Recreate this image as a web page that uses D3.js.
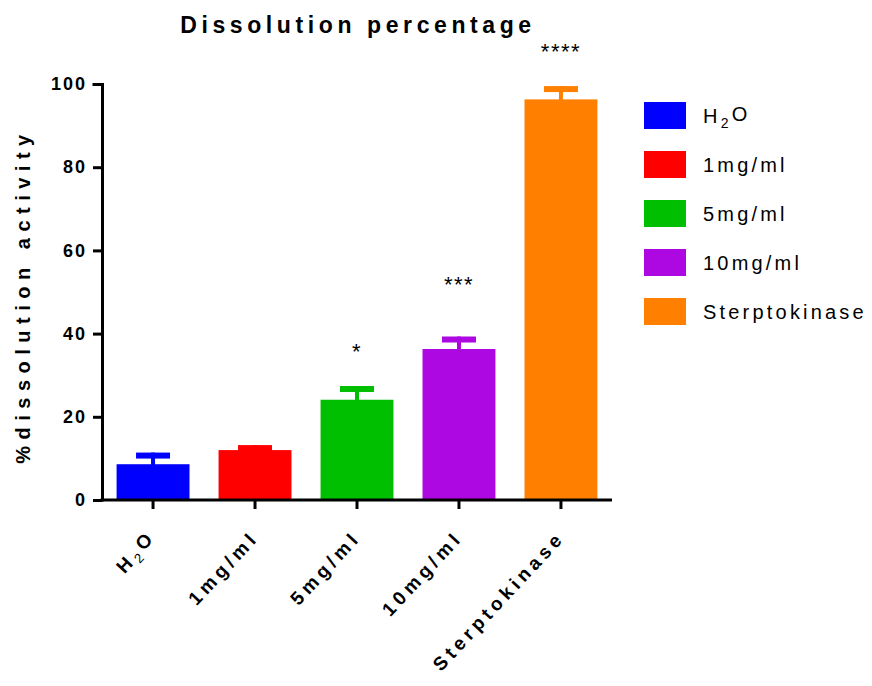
<!DOCTYPE html>
<html>
<head>
<meta charset="utf-8">
<script src="https://d3js.org/d3.v7.min.js"></script>
<style>
  body { margin: 0; background: #fff; }
  text { font-family: "Liberation Sans", Arial, sans-serif; }
  .title { font-size: 23px; font-weight: bold; letter-spacing: 4.6px; }
  .ylab { font-size: 20px; font-weight: bold; letter-spacing: 6.5px; }
  .axis text { font-size: 18px; font-weight: bold; fill: #000; }
  .y.axis text { letter-spacing: 2px; }
  .x.axis text { font-size: 19px; letter-spacing: 4.4px; }
  .legend text { font-size: 20px; letter-spacing: 3.2px; }
  .star { font-size: 22px; letter-spacing: 1.5px; }
</style>
</head>
<body>
<script>
  var categories = ["H2O", "1mg/ml", "5mg/ml", "10mg/ml", "Sterptokinase"];
  var means = [8.6, 12.0, 24.1, 36.3, 96.3];
  var errors = [2.8, 1.2, 3.3, 3.0, 3.2];
  var stars = ["", "", "*", "***", "****"];
  var starLevels = [null, null, 34, 50, 106];
  var colors = ["#0000ff", "#ff0000", "#00bf00", "#ad07e2", "#ff8000"];
  var yTicks = [0, 20, 40, 60, 80, 100];

  var margin = {top: 84, left: 102},
      width = 510, height = 416;

  var svg = d3.select("body").append("svg")
    .attr("width", 872).attr("height", 686);

  var g = svg.append("g")
    .attr("transform", "translate(" + margin.left + "," + margin.top + ")");

  var x = d3.scaleBand().domain(categories).range([0, width]).paddingInner(0.285).paddingOuter(0.143);
  var y = d3.scaleLinear().domain([0, 100]).range([height, 0]);

  function subscriptH2O(sel, size, shift, bold) {
    sel.each(function(d) {
      if (d !== "H2O") return;
      var t = d3.select(this).text("");
      t.append("tspan").text("H");
      t.append("tspan").attr("font-size", size).attr("font-weight", bold ? null : "normal")
        .attr("dy", shift).text("2");
      t.append("tspan").attr("dy", "-" + shift).text("O");
    });
  }

  // bars
  g.selectAll(".bar").data(categories).enter().append("rect")
    .attr("class", "bar")
    .attr("x", d => x(d))
    .attr("width", x.bandwidth())
    .attr("y", (d, i) => y(means[i]))
    .attr("height", (d, i) => height - y(means[i]))
    .attr("fill", (d, i) => colors[i]);

  // error bars (upper only) and significance marks
  var capW = 34, stemW = 4, capH = 6;
  categories.forEach(function(d, i) {
    var cx = x(d) + x.bandwidth() / 2;
    var top = y(means[i] + errors[i]);
    g.append("rect").attr("x", cx - stemW / 2).attr("width", stemW)
      .attr("y", top).attr("height", y(means[i]) - top + 1).attr("fill", colors[i]);
    g.append("rect").attr("x", cx - capW / 2).attr("width", capW)
      .attr("y", top).attr("height", capH).attr("fill", colors[i]);
    if (stars[i]) {
      g.append("text").attr("class", "star")
        .attr("x", cx).attr("y", y(starLevels[i]))
        .attr("text-anchor", "middle").text(stars[i]);
    }
  });

  // axes
  var yAxis = g.append("g").attr("class", "y axis")
    .call(d3.axisLeft(y).tickValues(yTicks).tickSize(9).tickPadding(6));
  var xAxis = g.append("g").attr("class", "x axis")
    .attr("transform", "translate(0," + height + ")")
    .call(d3.axisBottom(x).tickSize(9).tickSizeOuter(0));

  [yAxis, xAxis].forEach(function(a) {
    a.select(".domain").attr("stroke", "#000").attr("stroke-width", 3);
    a.selectAll(".tick line").attr("stroke", "#000").attr("stroke-width", 3);
  });
  yAxis.select(".domain").attr("d", "M-9.5,0.5H0.5V" + (height + 1.5));
  xAxis.select(".domain").attr("d", "M-1.5,0H" + width);
  xAxis.selectAll(".tick text")
    .style("text-anchor", "end")
    .attr("x", 0).attr("y", 0)
    .attr("dx", 0).attr("dy", "0.35em")
    .attr("transform", "translate(0,34) rotate(-47)")
    .call(subscriptH2O, "0.7em", "0.3em", false);

  // title
  svg.append("text").attr("class", "title")
    .attr("x", 358).attr("y", 33).attr("text-anchor", "middle")
    .text("Dissolution percentage");

  // y label
  svg.append("text").attr("class", "ylab")
    .attr("transform", "translate(30,296) rotate(-90)")
    .attr("text-anchor", "middle")
    .text("%dissolution activity");

  // legend
  var legend = svg.append("g").attr("class", "legend")
    .attr("transform", "translate(644,102)");
  var rows = legend.selectAll("g").data(categories).enter().append("g")
    .attr("transform", (d, i) => "translate(0," + i * 49 + ")");
  rows.append("rect").attr("width", 42).attr("height", 27)
    .attr("fill", (d, i) => colors[i]);
  rows.append("text").attr("x", 59).attr("y", 21)
    .text(d => d)
    .call(subscriptH2O, "0.7em", "0.35em", true);
</script>
</body>
</html>
